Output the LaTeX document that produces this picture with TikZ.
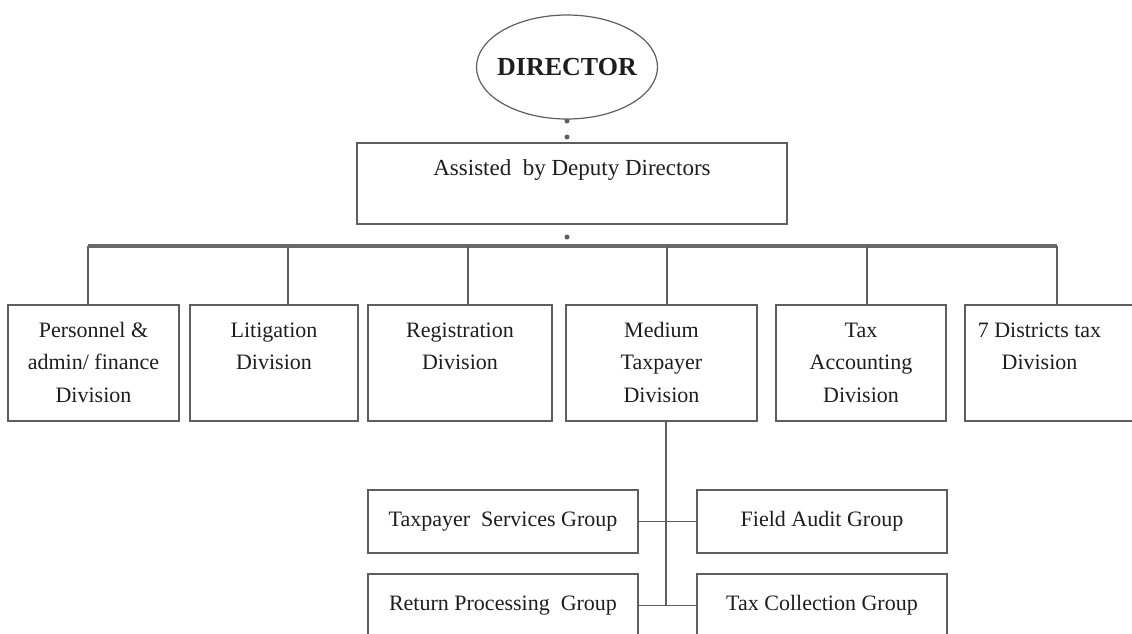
\documentclass[tikz,border=0pt]{standalone}
\usepackage{fontspec}
\setmainfont{Liberation Serif}
\usetikzlibrary{shapes.geometric}
\definecolor{linegray}{HTML}{5E5E5E}
\definecolor{bargray}{HTML}{6A6A6A}
\definecolor{inkgray}{HTML}{1E1E1E}
\begin{document}
\begin{tikzpicture}[x=1pt,y=-1pt,
  orgbox/.style={draw=linegray, line width=1.3pt, fill=white, inner sep=0pt, outer sep=0pt},
  divbox/.style={orgbox, minimum height=116pt},
  grpbox/.style={orgbox, minimum height=63pt, text=inkgray, font=\fontsize{22}{26}\selectfont},
  divtext/.style={anchor=base, align=center, inner sep=0pt, text=inkgray, font=\fontsize{22}{32.5}\selectfont},
  wire/.style={draw=linegray, line width=1.4pt},
  thinwire/.style={draw=linegray, line width=1.1pt},
  mainbar/.style={draw=bargray, line width=4pt},
  pin/.style={circle, fill=linegray, inner sep=0pt, minimum size=5pt}
]
\useasboundingbox (0,0) rectangle (1132,633);
\clip (0,0) rectangle (1132,633);

% head of the organisation (label boxed to zero width so the ellipse keeps its size)
\node[pin] (p1) at (567,121) {};
\node[ellipse, draw=linegray, line width=1.2pt, fill=white, minimum width=181pt, minimum height=104pt, inner sep=0pt,
      text=inkgray, font=\fontsize{26}{30}\selectfont\bfseries] (dir) at (567,67) {\makebox[0pt][c]{DIRECTOR}};
\node[pin] (p2) at (567,137) {};

% deputy directors
\node[orgbox, minimum width=430pt, minimum height=81pt] (dep) at (572,183.5) {};
\node[divtext, font=\fontsize{23}{26}\selectfont] (deptext) at ([yshift=-32pt]dep.north) {Assisted~~by Deputy Directors};
\node[pin] (p3) at (567,237) {};

% distribution bar
\coordinate (b1) at (88,246);
\coordinate (b2) at (288,246);
\coordinate (b3) at (468,246);
\coordinate (b4) at (667,246);
\coordinate (b5) at (867,246);
\coordinate (b6) at (1057,246);

% divisions
\node[divbox, minimum width=171pt] (d1) at (93.5,363) {};
\node[divbox, minimum width=168pt] (d2) at (274,363) {};
\node[divbox, minimum width=184pt] (d3) at (460,363) {};
\node[divbox, minimum width=191pt] (d4) at (661.5,363) {};
\node[divbox, minimum width=170pt] (d5) at (861,363) {};
\node[divbox, minimum width=175pt] (d6) at (1052.5,363) {};

% the base anchor of a multi-line label sits on its last line
\node[divtext] (t1) at ([yshift=-97pt]d1.north) {Personnel \&\\admin/ finance\\Division};
\node[divtext] (t2) at ([yshift=-64.5pt]d2.north) {Litigation\\Division};
\node[divtext] (t3) at ([yshift=-64.5pt]d3.north) {Registration\\Division};
\node[divtext] (t4) at ([yshift=-97pt]d4.north) {Medium\\Taxpayer\\Division};
\node[divtext] (t5) at ([yshift=-97pt]d5.north) {Tax\\Accounting\\Division};
\node[divtext] (t6) at ([xshift=-13pt,yshift=-64.5pt]d6.north) {7 Districts tax\\Division};

\draw[mainbar] (b1) -- (b6);
\foreach \i in {1,...,6}{
  \draw[wire] (b\i) -- (b\i |- d\i.north);
}

% groups of the medium taxpayer division
\node[grpbox, minimum width=270pt] (ts) at (503,521.5) {Taxpayer~~Services Group};
\node[grpbox, minimum width=250pt] (fa) at (822,521.5) {Field Audit Group};
\node[grpbox, minimum width=270pt] (rp) at (503,605.5) {Return Processing~~Group};
\node[grpbox, minimum width=250pt] (tc) at (822,605.5) {Tax Collection Group};

\coordinate (m) at (666,0);
\draw[thinwire] (d4.south -| m) -- (m |- rp.east);
\draw[thinwire] (ts.east) -- (fa.west);
\draw[thinwire] (rp.east) -- (tc.west);
\end{tikzpicture}
\end{document}
